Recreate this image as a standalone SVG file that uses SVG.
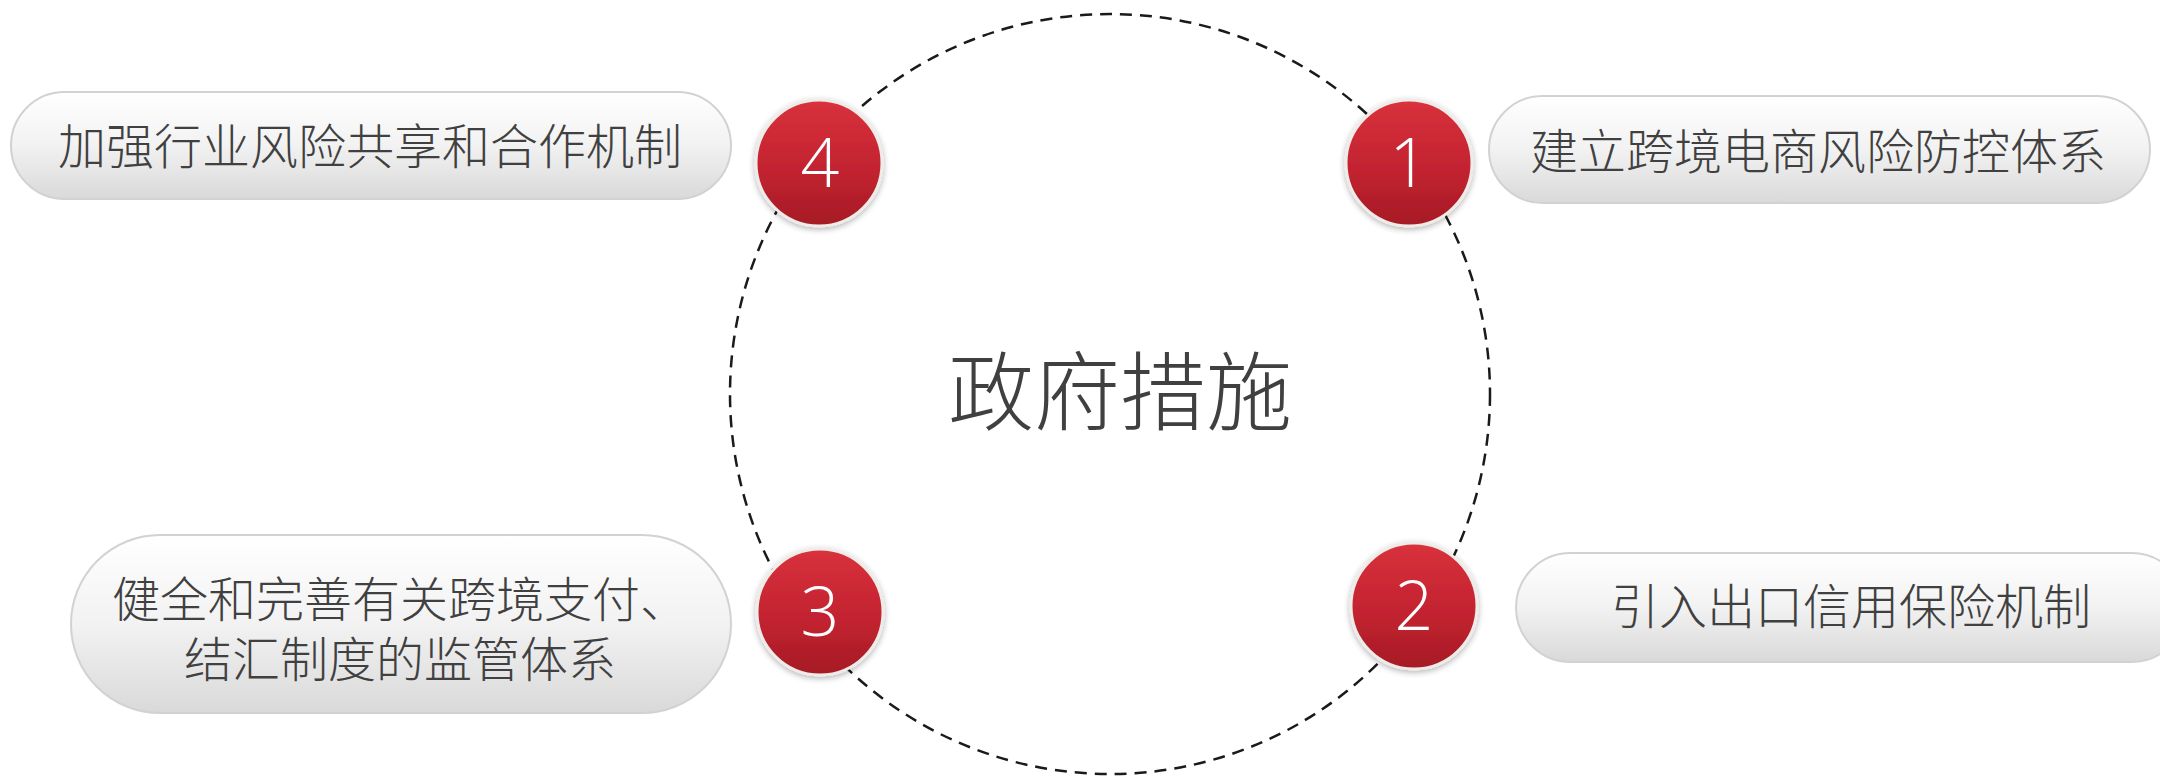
<svg xmlns="http://www.w3.org/2000/svg" width="2160" height="776" viewBox="0 0 2160 776">
<defs>
<linearGradient id="pillGrad" x1="0" y1="0" x2="0" y2="1">
<stop offset="0" stop-color="#ffffff"/>
<stop offset="0.5" stop-color="#f2f2f2"/>
<stop offset="1" stop-color="#d9d9d9"/>
</linearGradient>
<linearGradient id="redGrad" x1="0" y1="0" x2="0" y2="1">
<stop offset="0" stop-color="#d9313c"/>
<stop offset="0.6" stop-color="#c0222f"/>
<stop offset="1" stop-color="#a51b25"/>
</linearGradient>
<filter id="shadow" x="-20%" y="-20%" width="140%" height="140%">
<feGaussianBlur in="SourceAlpha" stdDeviation="3"/>
<feOffset dx="0" dy="2" result="b"/>
<feComponentTransfer><feFuncA type="linear" slope="0.3"/></feComponentTransfer>
<feMerge><feMergeNode/><feMergeNode in="SourceGraphic"/></feMerge>
</filter>
</defs>
<style>
.pill{fill:url(#pillGrad);stroke:#d2d2d2;stroke-width:2}
.badge{fill:url(#redGrad);stroke:#efebe8;stroke-width:3}
.num{font-family:"Open Sans","Lato","Liberation Sans",sans-serif;font-weight:300;font-size:68px;fill:#ffffff;text-anchor:middle}
.lbl{font-family:"Liberation Sans","Noto Sans CJK SC","Noto Sans CJK TC",sans-serif;font-weight:300;font-size:48px;fill:#404040;text-anchor:middle}
.title{font-family:"Noto Sans CJK SC","Noto Sans CJK TC",sans-serif;font-weight:300;font-size:86px;fill:#404040;text-anchor:middle}
.ring{fill:none;stroke:#1a1a1a;stroke-width:2.5;stroke-dasharray:12 8}
</style>
<rect width="2160" height="776" fill="#ffffff"/>
<g id="connectors">
<circle class="ring" cx="1110" cy="394" r="380"/>
</g>
<g id="center">
<text class="title" x="1120" y="424">政府措施</text>
</g>
<g id="item4">
<rect class="pill" x="11" y="92" width="720" height="107" rx="53.5"/>
<text class="lbl" x="370" y="164">加强行业风险共享和合作机制</text>
<circle class="badge" cx="819" cy="163" r="63" filter="url(#shadow)"/>
<text class="num" x="820" y="187">4</text>
</g>
<g id="item1">
<rect class="pill" x="1489" y="96" width="661" height="107" rx="53.5"/>
<text class="lbl" x="1818" y="169">建立跨境电商风险防控体系</text>
<circle class="badge" cx="1409" cy="163" r="63" filter="url(#shadow)"/>
<text class="num" x="1409" y="187">1</text>
</g>
<g id="item3">
<rect class="pill" x="71" y="535" width="660" height="178" rx="89"/>
<text class="lbl"><tspan x="400" y="617">健全和完善有关跨境支付、</tspan><tspan x="400" y="677">结汇制度的监管体系</tspan></text>
<circle class="badge" cx="820" cy="612" r="63" filter="url(#shadow)"/>
<text class="num" x="820" y="636">3</text>
</g>
<g id="item2">
<rect class="pill" x="1516" y="553" width="670" height="109" rx="54.5"/>
<text class="lbl" x="1851" y="624">引入出口信用保险机制</text>
<circle class="badge" cx="1414" cy="606" r="63" filter="url(#shadow)"/>
<text class="num" x="1414" y="630">2</text>
</g>
</svg>
